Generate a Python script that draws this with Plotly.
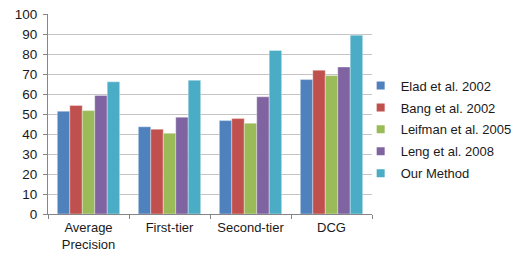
import plotly.graph_objects as go

categories = ["Average<br>Precision", "First-tier", "Second-tier", "DCG"]
series_names = ["Elad et al. 2002", "Bang et al. 2002", "Leifman et al. 2005",
                "Leng et al. 2008", "Our Method"]
elad = [51.4, 43.6, 46.7, 67.2]
bang = [54.3, 42.4, 47.7, 71.9]
leifman = [51.7, 40.4, 45.4, 69.2]
leng = [59.3, 48.4, 58.6, 73.5]
ours = [66.1, 66.9, 81.8, 89.4]
series_values = [elad, bang, leifman, leng, ours]
colors = ["#4F81BD", "#C0504D", "#9BBB59", "#8064A2", "#4BACC6"]
y_ticks = list(range(0, 101, 10))

FONT = "Liberation Sans, Arial, sans-serif"

fig = go.Figure()
for name, vals, col in zip(series_names, series_values, colors):
    fig.add_trace(go.Bar(
        x=categories, y=vals, name=name, showlegend=False,
        marker=dict(color=col, line=dict(color="rgba(255,255,255,0.6)", width=0.6)),
    ))
for i, (name, col) in enumerate(zip(series_names, colors)):
    fig.add_trace(go.Scatter(
        x=[None], y=[None], mode="markers", name=name, legendgroup=f"g{i}",
        marker=dict(symbol="square", size=8, color=col),
    ))

# the page body has an 8px margin, so the figure is sized/offset to compensate
fig.update_layout(
    width=514, height=245,
    margin=dict(l=40, r=150, t=6, b=39, autoexpand=False),
    paper_bgcolor="white", plot_bgcolor="white",
    font=dict(family=FONT, size=13.5, color="#1a1a1a"),
    barmode="group", bargap=0.23, bargroupgap=0,
    showlegend=True,
    legend=dict(x=0.965, xanchor="left", y=0.422, yanchor="middle",
                font=dict(size=13), itemwidth=30, traceorder="grouped",
                tracegroupgap=2, bgcolor="rgba(0,0,0,0)"),
    xaxis=dict(
        type="category", showline=True, linecolor="#868686", linewidth=1,
        ticks="outside", tickson="boundaries", ticklen=4, tickcolor="#868686",
        showgrid=False, zeroline=False, automargin=False, ticklabelstandoff=1,
        tickfont=dict(size=13), ticklabeloverflow="allow",
    ),
    yaxis=dict(
        range=[0, 100], tickvals=y_ticks, showline=True, linecolor="#868686",
        linewidth=1, ticks="outside", ticklen=4, tickcolor="#868686",
        showgrid=True, gridcolor="#c4c4c4", gridwidth=1, zeroline=False,
        fixedrange=True, automargin=False, ticklabelstandoff=3,
        ticklabeloverflow="allow",
    ),
)

fig.write_html("out.html")
